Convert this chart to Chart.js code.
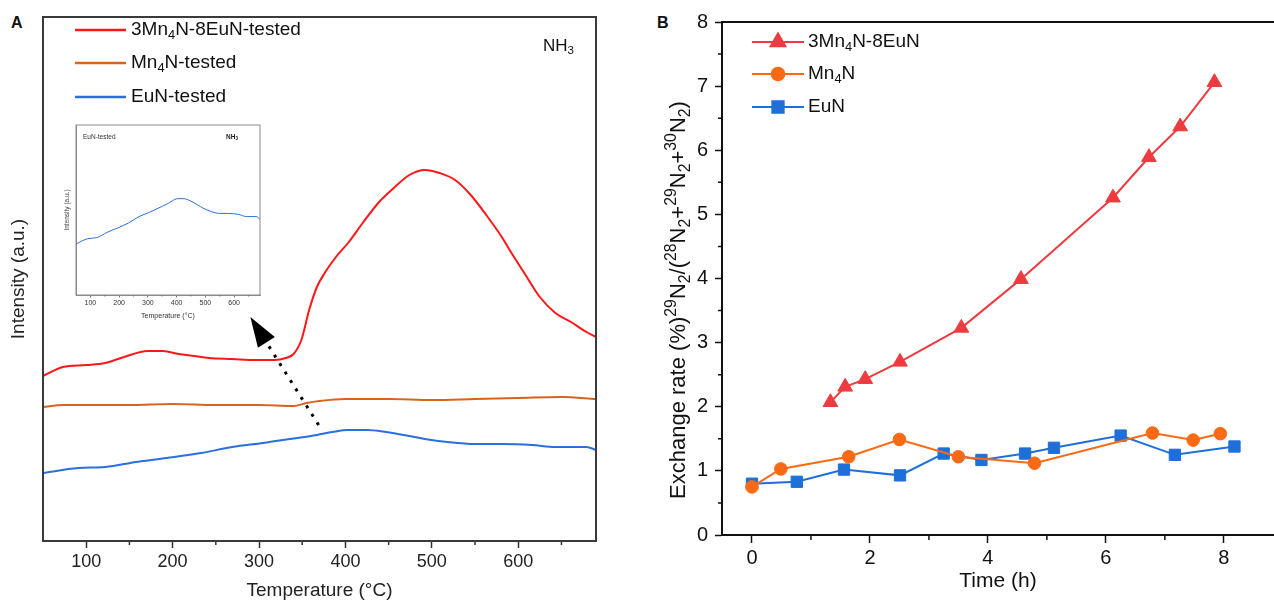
<!DOCTYPE html>
<html>
<head>
<meta charset="utf-8">
<script src="https://cdn.jsdelivr.net/npm/chart.js@4.4.1/dist/chart.umd.min.js"></script>
<style>
  body { margin: 0; background: #fff; width: 1274px; height: 603px; overflow: hidden; position: relative; font-family: "Liberation Sans", Arial, sans-serif; }
  canvas { position: absolute; }
  .tag { position: absolute; font-weight: bold; font-size: 16px; line-height: 16px; color: #111; }
</style>
</head>
<body>
<div class="tag" style="left:11px;top:15px">A</div>
<div class="tag" style="left:657px;top:15px">B</div>
<canvas id="chartA" width="640" height="603" style="left:0;top:0"></canvas>
<canvas id="inset" width="210" height="208" style="left:60px;top:118px"></canvas>
<canvas id="chartB" width="634" height="603" style="left:640px;top:0"></canvas>
<script>
// ---- panel A : NH3 TPD curves (intensity in arbitrary units) ----
const redTemp = [50,73,100,122,144,171,189,207,225,242,269,296,318,331,340,349,358,367,376,389,403,420,438,456,474,492,509,527,545,563,581,590,607,625,643,661,679,690];
const redInt  = [165,174,176,178,184,190,190,187,185,183,182,181,181,183,187,201,231,254,268,284,298,318,338,353,366,371,368,361,346,326,304,291,268,244,228,219,209,204];
const mnTemp  = [50,73,100,150,200,250,300,340,355,370,400,450,500,550,600,650,690];
const mnInt   = [134,136,136,136,137,136,136,135,138,140,142,142,141,142,143,144,142];
const euTemp  = [50,91,122,158,193,233,269,305,336,367,385,403,425,447,474,492,518,550,581,616,643,679,690];
const euInt   = [68,73,74,79,83,88,94,98,102,106,109,111,111,109,105,102,99,97,97,96,94,94,91];
const tempTicks = [100,200,300,400,500,600];
const tempMinor = [150,250,350,450,550,650];
const seriesA = ['3Mn_{4}N-8EuN-tested', 'Mn_{4}N-tested', 'EuN-tested'];

// ---- panel B : exchange rate vs time ----
const timeRed = [1.33,1.58,1.92,2.51,3.55,4.56,6.12,6.73,7.26,7.84];
const rateRed = [2.07,2.31,2.43,2.70,3.23,3.99,5.26,5.89,6.37,7.06];
const timeMn  = [0,0.49,1.64,2.5,3.5,4.79,6.79,7.48,7.94];
const rateMn  = [0.75,1.03,1.22,1.49,1.22,1.12,1.59,1.48,1.58];
const timeEu  = [0,0.76,1.56,2.51,3.25,3.89,4.63,5.12,6.25,7.17,8.18];
const rateEu  = [0.80,0.83,1.02,0.93,1.27,1.17,1.27,1.36,1.55,1.25,1.38];
const timeTicks = [0,2,4,6,8];
const timeMinor = [1,3,5,7];
const rateTicks = [0,1,2,3,4,5,6,7,8];
const rateMinor = [0.5,1.5,2.5,3.5,4.5,5.5,6.5,7.5];
const seriesB = ['3Mn_{4}N-8EuN', 'Mn_{4}N', 'EuN'];

const FONT = '"Liberation Sans", Arial, Helvetica, sans-serif';

function pts(xs, ys) { return xs.map((x, i) => ({ x: x, y: ys[i] })); }

// text with _{sub} and ^{sup} parts
function richText(ctx, str, x, y, size, opt) {
  opt = opt || {};
  const weight = opt.bold ? 'bold ' : '';
  const small = opt.small || 0.68;
  const re = /([_^])\{([^}]*)\}|([^_^]+)/g;
  const parts = [];
  let m;
  while ((m = re.exec(str))) parts.push(m[3] !== undefined ? { t: m[3], k: '' } : { t: m[2], k: m[1] });
  let w = 0;
  parts.forEach(p => {
    p.s = p.k ? size * small : size;
    ctx.font = weight + p.s + 'px ' + FONT;
    p.w = ctx.measureText(p.t).width;
    w += p.w;
  });
  let cx = opt.align === 'center' ? x - w / 2 : x;
  ctx.textBaseline = 'middle';
  ctx.textAlign = 'left';
  ctx.fillStyle = opt.color || '#111';
  parts.forEach(p => {
    ctx.font = weight + p.s + 'px ' + FONT;
    const dy = p.k === '_' ? size * 0.3 : (p.k === '^' ? -size * 0.32 : 0);
    ctx.fillText(p.t, cx, y + dy);
    cx += p.w;
  });
  return w;
}

function drawMinor(chart, axis, values, len, width, color) {
  const s = chart.scales[axis], a = chart.chartArea, ctx = chart.ctx;
  ctx.save();
  ctx.strokeStyle = color;
  ctx.lineWidth = width;
  ctx.beginPath();
  values.forEach(v => {
    const p = s.getPixelForValue(v);
    if (s.isHorizontal()) { ctx.moveTo(p, a.bottom); ctx.lineTo(p, a.bottom + len); }
    else { ctx.moveTo(a.left, p); ctx.lineTo(a.left - len, p); }
  });
  ctx.stroke();
  ctx.restore();
}

// fixed axis sizes, no extra label padding
function fitX(h) { return s => { s.height = h; s.paddingLeft = 0; s.paddingRight = 0; }; }
function fitY(w) { return s => { s.width = w; s.paddingTop = 0; s.paddingBottom = 0; }; }

const colorsA = ['#ff1717', '#d9631d', '#2a70dc'];
const colorsB = ['#ee3b3f', '#fa6a14', '#1f6fd9'];

// arrow pointing from the EuN curve to the inset (data units)
const arrowFrom = { x: 369, y: 116 };
const arrowTo = { x: 290, y: 224 };

const decoA = {
  id: 'decoA',
  afterDraw(chart) {
    const ctx = chart.ctx, a = chart.chartArea;
    drawMinor(chart, 'x', tempMinor, 4, 1.5, '#333');
    ctx.save();
    ctx.strokeStyle = '#3a3a3a';
    ctx.lineWidth = 2;
    ctx.strokeRect(a.left, a.top, a.right - a.left, a.bottom - a.top);
    // legend
    const rows = [30, 63, 97];
    seriesA.forEach((name, i) => {
      ctx.strokeStyle = colorsA[i];
      ctx.lineWidth = 2.5;
      ctx.beginPath();
      ctx.moveTo(75, rows[i]);
      ctx.lineTo(126, rows[i]);
      ctx.stroke();
      richText(ctx, name, 131, rows[i], 19, { color: '#111' });
    });
    richText(ctx, 'NH_{3}', 543, 46, 17, { color: '#111' });
    // dotted arrow
    const xs = chart.scales.x, ys = chart.scales.y;
    const x0 = xs.getPixelForValue(arrowFrom.x), y0 = ys.getPixelForValue(arrowFrom.y);
    const x1 = xs.getPixelForValue(arrowTo.x), y1 = ys.getPixelForValue(arrowTo.y);
    const len = Math.hypot(x1 - x0, y1 - y0), dx = (x1 - x0) / len, dy = (y1 - y0) / len;
    const head = 30, half = 10;
    const bx = x1 - dx * head, by = y1 - dy * head;
    ctx.strokeStyle = '#000';
    ctx.lineWidth = 3;
    ctx.setLineDash([3, 7]);
    ctx.beginPath();
    ctx.moveTo(x0, y0);
    ctx.lineTo(bx, by);
    ctx.stroke();
    ctx.setLineDash([]);
    ctx.fillStyle = '#000';
    ctx.beginPath();
    ctx.moveTo(x1, y1);
    ctx.lineTo(bx - dy * half, by + dx * half);
    ctx.lineTo(bx + dy * half, by - dx * half);
    ctx.closePath();
    ctx.fill();
    ctx.restore();
  }
};

new Chart(document.getElementById('chartA'), {
  type: 'line',
  data: {
    datasets: [
      { label: seriesA[0], data: pts(redTemp, redInt), borderColor: colorsA[0], borderWidth: 2, pointRadius: 0, cubicInterpolationMode: 'monotone' },
      { label: seriesA[1], data: pts(mnTemp, mnInt), borderColor: colorsA[1], borderWidth: 2, pointRadius: 0, cubicInterpolationMode: 'monotone' },
      { label: seriesA[2], data: pts(euTemp, euInt), borderColor: colorsA[2], borderWidth: 2, pointRadius: 0, cubicInterpolationMode: 'monotone' }
    ]
  },
  options: {
    responsive: false, devicePixelRatio: 1, animation: false, events: [],
    layout: { autoPadding: false, padding: { top: 17, right: 44, left: 0, bottom: 0 } },
    plugins: { legend: { display: false }, tooltip: { enabled: false } },
    scales: {
      x: {
        type: 'linear', min: 50, max: 690,
        afterBuildTicks: s => { s.ticks = tempTicks.map(v => ({ value: v })); },
        afterFit: fitX(62),
        ticks: { font: { size: 18, family: FONT }, color: '#222', padding: 3, maxRotation: 0, autoSkip: false },
        grid: { drawOnChartArea: false, tickLength: 7, tickWidth: 1.5, tickColor: '#333' },
        border: { color: '#3a3a3a', width: 2 },
        title: { display: true, text: 'Temperature (°C)', font: { size: 19, family: FONT }, color: '#222', padding: { top: 0, bottom: 1 } }
      },
      y: {
        min: 0, max: 524,
        afterFit: fitY(43),
        ticks: { display: false },
        grid: { display: false },
        border: { color: '#3a3a3a', width: 2 },
        title: { display: true, text: 'Intensity (a.u.)', font: { size: 19, family: FONT }, color: '#222', padding: { top: 7, bottom: 0 } }
      }
    }
  },
  plugins: [decoA]
});

// ---- inset: EuN-tested alone ----
const decoInset = {
  id: 'decoInset',
  afterDraw(chart) {
    const ctx = chart.ctx, a = chart.chartArea;
    drawMinor(chart, 'x', tempMinor, 1.5, 0.8, '#555');
    ctx.save();
    ctx.strokeStyle = '#8a8a8a';
    ctx.lineWidth = 1;
    ctx.strokeRect(a.left, a.top, a.right - a.left, a.bottom - a.top);
    richText(ctx, 'EuN-tested', 23, 19, 6.5, { color: '#333' });
    richText(ctx, 'NH_{3}', 166, 19, 6.5, { color: '#222', bold: true });
    ctx.restore();
  }
};

new Chart(document.getElementById('inset'), {
  type: 'line',
  data: {
    datasets: [
      { label: seriesA[2], data: pts(euTemp, euInt), borderColor: colorsA[2], borderWidth: 1, pointRadius: 0, cubicInterpolationMode: 'monotone' }
    ]
  },
  options: {
    responsive: false, devicePixelRatio: 1, animation: false, events: [],
    layout: { autoPadding: false, padding: { top: 7, right: 10, left: 0, bottom: 0 } },
    plugins: { legend: { display: false }, tooltip: { enabled: false } },
    scales: {
      x: {
        type: 'linear', min: 50, max: 690,
        afterBuildTicks: s => { s.ticks = tempTicks.map(v => ({ value: v })); },
        afterFit: fitX(31),
        ticks: { font: { size: 7, family: FONT }, color: '#333', padding: 1, maxRotation: 0, autoSkip: false },
        grid: { drawOnChartArea: false, tickLength: 2.5, tickWidth: 0.8, tickColor: '#555' },
        border: { color: '#8a8a8a', width: 1 },
        title: { display: true, text: 'Temperature (°C)', font: { size: 7, family: FONT }, color: '#333', padding: { top: 0, bottom: 6 } }
      },
      y: {
        min: 19.5, max: 181,
        afterFit: fitY(16),
        ticks: { display: false },
        grid: { display: false },
        border: { color: '#8a8a8a', width: 1 },
        title: { display: true, text: 'Intensity (a.u.)', font: { size: 6.5, family: FONT }, color: '#444', padding: { top: 3, bottom: 0 } }
      }
    }
  },
  plugins: [decoInset]
});

// ---- panel B ----
const stylesB = [
  { pointStyle: 'triangle', radius: 8.5 },
  { pointStyle: 'circle', radius: 6.3 },
  { pointStyle: 'rect', radius: 8 }
];

const decoB = {
  id: 'decoB',
  afterDraw(chart) {
    const ctx = chart.ctx, a = chart.chartArea;
    drawMinor(chart, 'x', timeMinor, 5, 1.5, '#111');
    drawMinor(chart, 'y', rateMinor, 4, 1.5, '#111');
    ctx.save();
    ctx.strokeStyle = '#111';
    ctx.lineWidth = 2;
    ctx.beginPath();
    ctx.moveTo(a.left, a.top);
    ctx.lineTo(chart.width, a.top);
    ctx.stroke();
    // legend: line with marker
    const rows = [42, 74, 107];
    seriesB.forEach((name, i) => {
      ctx.strokeStyle = colorsB[i];
      ctx.fillStyle = colorsB[i];
      ctx.lineWidth = 2;
      ctx.beginPath();
      ctx.moveTo(112, rows[i]);
      ctx.lineTo(164, rows[i]);
      ctx.stroke();
      Chart.helpers.drawPoint(ctx, { pointStyle: stylesB[i].pointStyle, radius: stylesB[i].radius, rotation: 0, borderWidth: 1 }, 138, rows[i]);
      richText(ctx, name, 168, rows[i], 19, { color: '#111' });
    });
    // y axis title
    ctx.translate(39, 300);
    ctx.rotate(-Math.PI / 2);
    richText(ctx, 'Exchange rate (%)^{29}N_{2}/(^{28}N_{2}+^{29}N_{2}+^{30}N_{2})', 0, 0, 22, { color: '#111', align: 'center', small: 0.72 });
    ctx.restore();
  }
};

function dsB(i, xs, ys) {
  return {
    label: seriesB[i], data: pts(xs, ys),
    borderColor: colorsB[i], backgroundColor: colorsB[i], borderWidth: 2,
    pointStyle: stylesB[i].pointStyle, pointRadius: stylesB[i].radius,
    pointBorderWidth: 1, pointBackgroundColor: colorsB[i], pointBorderColor: colorsB[i],
    tension: 0, clip: false
  };
}

new Chart(document.getElementById('chartB'), {
  type: 'line',
  data: {
    datasets: [
      dsB(0, timeRed, rateRed),
      dsB(1, timeMn, rateMn),
      dsB(2, timeEu, rateEu)
    ]
  },
  options: {
    responsive: false, devicePixelRatio: 1, animation: false, events: [],
    layout: { autoPadding: false, padding: { top: 22, right: 0, left: 0, bottom: 0 } },
    plugins: { legend: { display: false }, tooltip: { enabled: false } },
    scales: {
      x: {
        type: 'linear', min: -0.508, max: 8.85,
        afterBuildTicks: s => { s.ticks = timeTicks.map(v => ({ value: v })); },
        afterFit: fitX(68),
        ticks: { font: { size: 20, family: FONT }, color: '#111', padding: 3, maxRotation: 0, autoSkip: false },
        grid: { drawOnChartArea: false, tickLength: 8, tickWidth: 1.5, tickColor: '#111' },
        border: { color: '#111', width: 2 },
        title: { display: true, text: 'Time (h)', font: { size: 21, family: FONT }, color: '#111', padding: { top: 0, bottom: 9 } }
      },
      y: {
        min: 0, max: 8,
        afterBuildTicks: s => { s.ticks = rateTicks.map(v => ({ value: v })); },
        afterFit: fitY(82),
        ticks: { font: { size: 20, family: FONT }, color: '#111', padding: 7, autoSkip: false },
        grid: { drawOnChartArea: false, tickLength: 7, tickWidth: 1.5, tickColor: '#111' },
        border: { color: '#111', width: 2 }
      }
    }
  },
  plugins: [decoB]
});
</script>
</body>
</html>
